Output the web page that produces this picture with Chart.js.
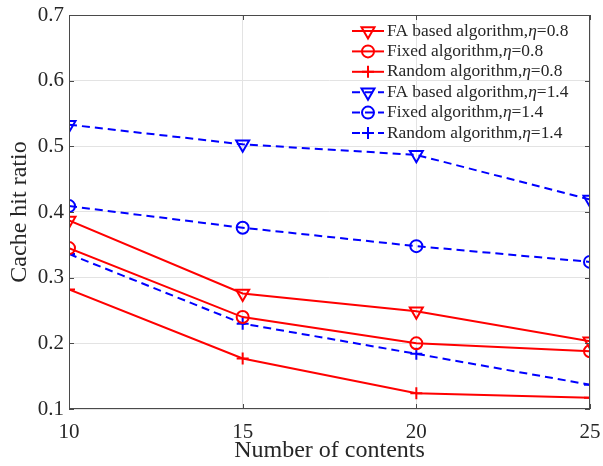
<!DOCTYPE html>
<html lang="en">
<head>
  <meta charset="UTF-8">
  <title>Cache hit ratio vs number of contents</title>
  <script src="https://cdn.jsdelivr.net/npm/chart.js"></script>
  <style>
    html, body { margin: 0; padding: 0; background: #fff; }
    #wrap { width: 603px; height: 466px; }
  </style>
</head>
<body>
  <div id="wrap"><canvas id="chart" width="603" height="466"></canvas></div>
  <script>
    // Data
    const contents = [10, 15, 20, 25];
    const xTicks = [10, 15, 20, 25];
    const yTicks = [0.1, 0.2, 0.3, 0.4, 0.5, 0.6, 0.7];

    const faBased08 = [0.387, 0.276, 0.249, 0.203];
    const fixed08 = [0.345, 0.240, 0.200, 0.188];
    const random08 = [0.282, 0.177, 0.124, 0.117];
    const faBased14 = [0.533, 0.503, 0.487, 0.419];
    const fixed14 = [0.409, 0.376, 0.348, 0.324];
    const random14 = [0.336, 0.230, 0.184, 0.137];

    const seriesNames = [
      ['FA based algorithm,', '0.8'],
      ['Fixed algorithm,', '0.8'],
      ['Random algorithm,', '0.8'],
      ['FA based algorithm,', '1.4'],
      ['Fixed algorithm,', '1.4'],
      ['Random algorithm,', '1.4']
    ];

    const RED = '#ff0000';
    const BLUE = '#0000ff';
    const TEXT = '#262626';
    const FONT = '"Liberation Serif", "Times New Roman", serif';

    const makeSet = (idx, values, color, style, dashed) => ({
      label: seriesNames[idx][0] + 'η=' + seriesNames[idx][1],
      data: values.map((v, i) => ({ x: contents[i], y: v })),
      borderColor: color,
      borderWidth: 2,
      borderDash: dashed ? [8, 5] : [],
      pointStyle: style === 'tri' ? 'triangle' : style,
      rotation: style === 'tri' ? 180 : 0,
      pointRadius: style === 'tri' ? 7.5 : 6,
      pointBorderWidth: 2,
      pointBorderColor: color,
      pointBackgroundColor: 'rgba(0,0,0,0)',
      fill: false,
      tension: 0
    });

    const datasets = [
      makeSet(0, faBased08, RED, 'tri', false),
      makeSet(1, fixed08, RED, 'circle', false),
      makeSet(2, random08, RED, 'cross', false),
      makeSet(3, faBased14, BLUE, 'tri', true),
      makeSet(4, fixed14, BLUE, 'circle', true),
      makeSet(5, random14, BLUE, 'cross', true)
    ];

    // Box, inward ticks and legend (MATLAB look)
    const matlabPlugin = {
      id: 'matlab',
      afterDatasetsDraw(chart) {
        const ctx = chart.ctx;
        const a = chart.chartArea;
        const xs = chart.scales.x, ys = chart.scales.y;
        ctx.save();
        ctx.strokeStyle = '#4a4a4a';
        ctx.lineWidth = 1;
        ctx.strokeRect(a.left + 0.5, a.top + 0.5, a.right - a.left - 1, a.bottom - a.top - 1);
        const tl = 5;
        ctx.beginPath();
        xTicks.forEach(t => {
          const px = Math.round(xs.getPixelForValue(t)) + 0.5;
          ctx.moveTo(px, a.bottom); ctx.lineTo(px, a.bottom - tl);
          ctx.moveTo(px, a.top); ctx.lineTo(px, a.top + tl);
        });
        yTicks.forEach(t => {
          const py = Math.round(ys.getPixelForValue(t)) + 0.5;
          ctx.moveTo(a.left, py); ctx.lineTo(a.left + tl, py);
          ctx.moveTo(a.right, py); ctx.lineTo(a.right - tl, py);
        });
        ctx.stroke();

        // legend
        const lx0 = 352, lx1 = 384, tx = 387;
        chart.data.datasets.forEach((ds, i) => {
          const y = 31 + i * 20.4;
          ctx.strokeStyle = ds.borderColor;
          ctx.fillStyle = 'rgba(0,0,0,0)';
          ctx.lineWidth = 2;
          ctx.setLineDash(ds.borderDash);
          ctx.beginPath();
          ctx.moveTo(lx0, y); ctx.lineTo(lx1, y);
          ctx.stroke();
          ctx.setLineDash([]);
          Chart.helpers.drawPoint(ctx, {
            pointStyle: ds.pointStyle,
            rotation: ds.rotation,
            radius: ds.pointRadius,
            borderWidth: 2
          }, (lx0 + lx1) / 2, y);
          ctx.fillStyle = TEXT;
          ctx.textBaseline = 'middle';
          ctx.textAlign = 'left';
          let x = tx;
          ctx.font = '17.4px ' + FONT;
          ctx.fillText(seriesNames[i][0], x, y);
          x += ctx.measureText(seriesNames[i][0]).width;
          ctx.font = 'italic 17.4px ' + FONT;
          ctx.fillText('η', x, y);
          x += ctx.measureText('η').width;
          ctx.font = '17.4px ' + FONT;
          ctx.fillText('=' + seriesNames[i][1], x, y);
        });
        ctx.restore();
      }
    };

    new Chart(document.getElementById('chart'), {
      type: 'line',
      data: { datasets },
      plugins: [matlabPlugin],
      options: {
        responsive: false,
        animation: false,
        events: [],
        layout: { padding: { left: 0, right: 13, top: 15, bottom: 0 } },
        plugins: { legend: { display: false }, tooltip: { enabled: false } },
        scales: {
          x: {
            type: 'linear',
            min: 10,
            max: 25,
            afterBuildTicks: s => { s.ticks = xTicks.map(v => ({ value: v })); },
            afterFit: s => { s.height = 57; s.paddingLeft = 0; s.paddingRight = 0; },
            grid: { color: '#e3e3e3', drawTicks: false, lineWidth: 1 },
            border: { display: false },
            ticks: {
              color: TEXT,
              font: { family: FONT, size: 21 },
              padding: 11,
              maxRotation: 0,
              callback: v => String(v)
            },
            title: {
              display: true,
              text: 'Number of contents',
              color: TEXT,
              font: { family: FONT, size: 24 },
              padding: { top: 0, bottom: 1 }
            }
          },
          y: {
            min: 0.1,
            max: 0.7,
            afterBuildTicks: s => { s.ticks = yTicks.map(v => ({ value: v })); },
            afterFit: s => { s.width = 69; s.paddingTop = 0; s.paddingBottom = 0; },
            grid: { color: '#e3e3e3', drawTicks: false, lineWidth: 1 },
            border: { display: false },
            ticks: {
              color: TEXT,
              font: { family: FONT, size: 21 },
              padding: 5,
              callback: v => v.toFixed(1)
            },
            title: {
              display: true,
              text: 'Cache hit ratio',
              color: TEXT,
              font: { family: FONT, size: 24 },
              padding: { top: 5, bottom: 0 }
            }
          }
        }
      }
    });
  </script>
</body>
</html>
